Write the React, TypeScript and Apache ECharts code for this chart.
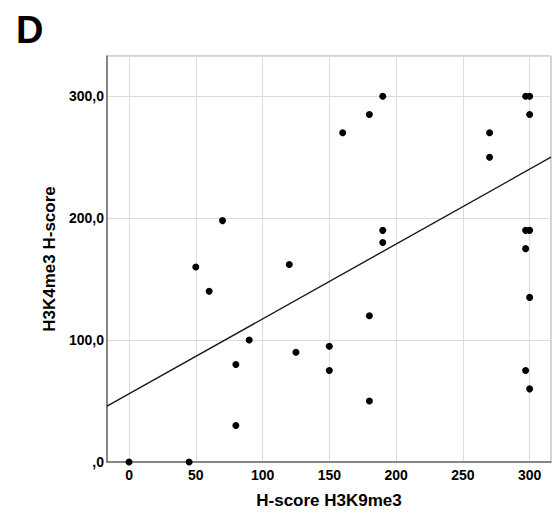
import React, { useEffect, useRef } from "react";
import * as echarts from "echarts";

// H-score H3K9me3 (x) vs H3K4me3 H-score (y)
const h3k9me3: number[] = [0, 45, 50, 60, 70, 80, 80, 90, 120, 125, 150, 150, 160, 180, 180, 180, 190, 190, 190, 270, 270, 297, 300, 300, 297, 300, 297, 300, 297, 300];
const h3k4me3: number[] = [0, 0, 160, 140, 198, 80, 30, 100, 162, 90, 95, 75, 270, 285, 120, 50, 300, 190, 180, 270, 250, 300, 300, 285, 190, 190, 175, 135, 75, 60];

// fitted regression line end points (x, y)
const fitX: number[] = [-16.5, 316];
const fitY: number[] = [45.8, 250];

const xTicks: number[] = [0, 50, 100, 150, 200, 250, 300];
const yTicks: number[] = [0, 100, 200, 300];

const FONT = "'Liberation Sans', Arial, Helvetica, sans-serif";

export default function App() {
  const ref = useRef<HTMLDivElement>(null);
  useEffect(() => {
    if (!ref.current) return;
    const chart = echarts.init(ref.current, undefined, { renderer: "svg" });
    const points = h3k9me3.map((x, i) => [x, h3k4me3[i]]);
    const fit = fitX.map((x, i) => [x, fitY[i]]);
    chart.setOption({
      animation: false,
      backgroundColor: "#ffffff",
      graphic: [
        {
          type: "text",
          left: 16,
          top: 11,
          style: { text: "D", font: `bold 38px ${FONT}`, fill: "#000" },
        },
      ],
      grid: {
        left: 107,
        top: 56,
        width: 444,
        height: 406,
        show: true,
        borderColor: "#a9a9a9",
        borderWidth: 1,
        backgroundColor: "#fff",
        containLabel: false,
      },
      xAxis: {
        type: "value",
        min: -16.5,
        max: 316,
        name: "H-score H3K9me3",
        nameLocation: "middle",
        nameGap: 29.5,
        nameTextStyle: { fontFamily: FONT, fontWeight: "bold", fontSize: 17, color: "#000" },
        axisLine: { show: true, onZero: false, lineStyle: { color: "#6b6b6b", width: 1.5 } },
        axisTick: { show: false, customValues: xTicks },
        axisLabel: {
          customValues: xTicks,
          margin: 6,
          fontFamily: FONT,
          fontWeight: "bold",
          fontSize: 14,
          color: "#000",
        },
        splitLine: { show: true, lineStyle: { color: "#dcdcdc", width: 1 } },
      },
      yAxis: {
        type: "value",
        min: 0,
        max: 333,
        interval: 100,
        name: "H3K4me3 H-score",
        nameLocation: "middle",
        nameGap: 48.5,
        nameTextStyle: { fontFamily: FONT, fontWeight: "bold", fontSize: 17, color: "#000" },
        axisLine: { show: true, onZero: false, lineStyle: { color: "#6b6b6b", width: 1.5 } },
        axisTick: { show: false },
        axisLabel: {
          showMaxLabel: false,
          margin: 3,
          fontFamily: FONT,
          fontWeight: "bold",
          fontSize: 14,
          color: "#000",
          formatter: (v: number) => (yTicks.includes(v) ? (v === 0 ? ",0" : `${v},0`) : ""),
        },
        splitLine: { show: true, lineStyle: { color: "#dcdcdc", width: 1 } },
      },
      series: [
        {
          type: "line",
          data: fit,
          showSymbol: false,
          symbol: "none",
          lineStyle: { color: "#1a1a1a", width: 1.4 },
          silent: true,
          z: 2,
        },
        {
          type: "scatter",
          data: points,
          symbol: "circle",
          symbolSize: 7,
          itemStyle: { color: "#000", opacity: 1 },
          z: 3,
        },
      ],
    });
    return () => chart.dispose();
  }, []);
  return (
    <div
      ref={ref}
      style={{ position: "fixed", left: 0, top: 0, width: 557, height: 515, background: "#fff" }}
    />
  );
}
